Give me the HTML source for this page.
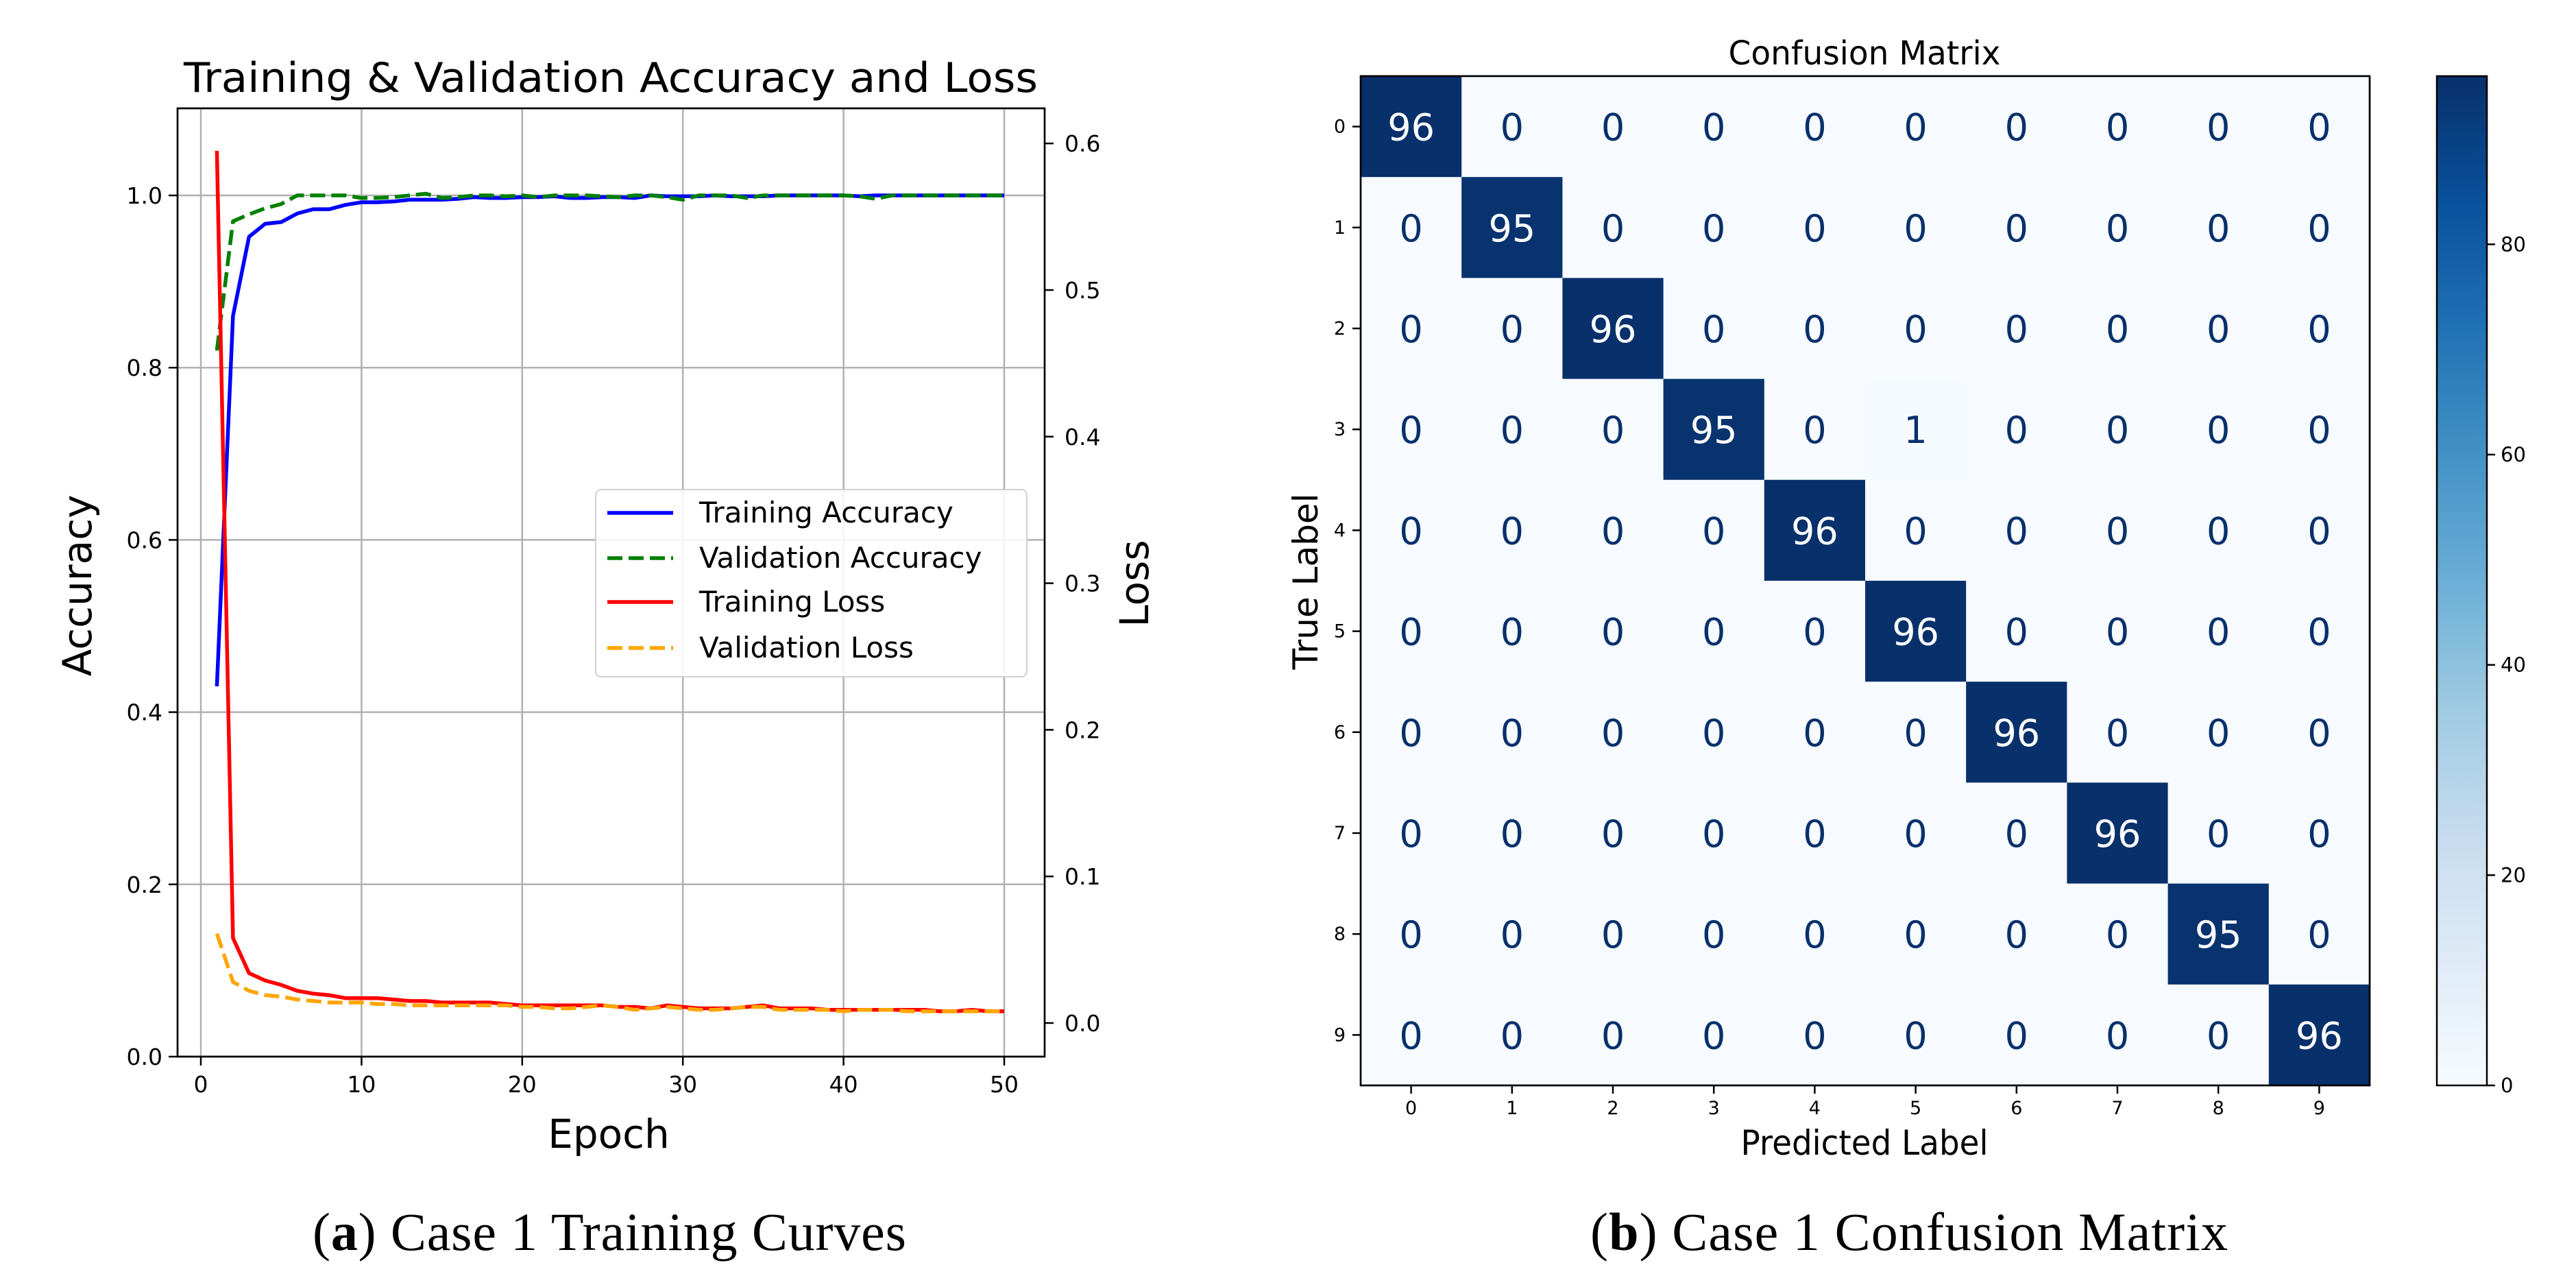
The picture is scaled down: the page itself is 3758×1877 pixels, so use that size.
<!DOCTYPE html>
<html><head><meta charset="utf-8"><style>
html,body{margin:0;padding:0;background:#fff}
svg{display:block}
text{font-family:"DejaVu Sans","Liberation Sans",sans-serif}
.cap{font-family:"Liberation Serif",serif}
</style></head><body>
<svg id="fig" width="3758" height="1877" viewBox="0 0 3758 1877" xmlns="http://www.w3.org/2000/svg">
<g id="left"></g>
<g id="right"></g>
<text class="cap" x="889" y="1823" font-size="78" text-anchor="middle" textLength="866">(<tspan font-weight="bold">a</tspan>) Case 1 Training Curves</text>
<text class="cap" x="2785" y="1823" font-size="78" text-anchor="middle" textLength="930">(<tspan font-weight="bold">b</tspan>) Case 1 Confusion Matrix</text>
</svg>
<script>
const epochs = Array.from({length:50},(_,i)=>i+1);
const trainAcc = [0.43,0.86,0.952,0.967,0.969,0.979,0.984,0.984,0.989,0.992,0.992,0.993,0.995,0.995,0.995,0.996,0.998,0.997,0.997,0.998,0.998,0.999,0.997,0.997,0.998,0.998,0.997,1.0,0.999,0.999,0.999,1.0,0.999,0.999,0.999,1.0,1.0,1.0,1.0,1.0,0.999,1.0,1.0,1.0,1.0,1.0,1.0,1.0,1.0,1.0];
const valAcc = [0.82,0.97,0.978,0.985,0.99,1.0,1.0,1.0,1.0,0.997,0.997,0.998,1.0,1.002,0.997,0.998,1.0,1.0,0.999,1.0,0.998,1.0,1.0,1.0,0.999,0.998,1.0,1.0,0.998,0.995,1.0,1.0,1.0,0.997,1.0,1.0,1.0,1.0,1.0,1.0,0.999,0.996,1.0,1.0,1.0,1.0,1.0,1.0,1.0,1.0];
const trainLoss = [0.595,0.058,0.034,0.029,0.026,0.022,0.020,0.019,0.017,0.017,0.017,0.016,0.015,0.015,0.014,0.014,0.014,0.014,0.013,0.012,0.012,0.012,0.012,0.012,0.012,0.011,0.011,0.010,0.012,0.011,0.010,0.010,0.010,0.011,0.012,0.010,0.010,0.010,0.009,0.009,0.009,0.009,0.009,0.009,0.009,0.008,0.008,0.009,0.008,0.008];
const valLoss = [0.061,0.028,0.022,0.019,0.018,0.016,0.015,0.014,0.014,0.014,0.013,0.013,0.012,0.012,0.012,0.012,0.012,0.012,0.012,0.011,0.011,0.010,0.010,0.011,0.012,0.011,0.009,0.010,0.011,0.010,0.009,0.009,0.010,0.011,0.011,0.009,0.009,0.009,0.009,0.008,0.009,0.009,0.009,0.008,0.008,0.008,0.008,0.008,0.008,0.008];
const xTicks = [0,10,20,30,40,50];
const accTicks = [0.0,0.2,0.4,0.6,0.8,1.0];
const lossTicks = [0.0,0.1,0.2,0.3,0.4,0.5,0.6];
const cmLabels = ['0','1','2','3','4','5','6','7','8','9'];
const cmValues = [
[96,0,0,0,0,0,0,0,0,0],
[0,95,0,0,0,0,0,0,0,0],
[0,0,96,0,0,0,0,0,0,0],
[0,0,0,95,0,1,0,0,0,0],
[0,0,0,0,96,0,0,0,0,0],
[0,0,0,0,0,96,0,0,0,0],
[0,0,0,0,0,0,96,0,0,0],
[0,0,0,0,0,0,0,96,0,0],
[0,0,0,0,0,0,0,0,95,0],
[0,0,0,0,0,0,0,0,0,96]];
const cbTicks = [0,20,40,60,80];

const NS='http://www.w3.org/2000/svg';
function mk(parent,tag,attrs,txt){const e=document.createElementNS(NS,tag);for(const k in attrs)e.setAttribute(k,attrs[k]);if(txt!==undefined)e.textContent=txt;parent.appendChild(e);return e;}

// ---- Left chart ----
const L=document.getElementById('left');
const ax={l:259,r:1524,t:158,b:1541};
const xS=v=>293+(v-0)*(1465-293)/50;
const yA=v=>1541-v*1256;
const yL=v=>1492-v*2138;
let e;
xTicks.forEach(t=>{e=mk(L,'line',{x1:xS(t),x2:xS(t),y1:ax.t,y2:ax.b,stroke:'#b0b0b0','stroke-width':2.5});

});
accTicks.forEach(t=>{e=mk(L,'line',{x1:ax.l,x2:ax.r,y1:yA(t),y2:yA(t),stroke:'#b0b0b0','stroke-width':2.5});

});
function series(vals,yf,color,dash,name){const d=vals.map((v,i)=>(i?'L':'M')+xS(epochs[i]).toFixed(1)+','+yf(v).toFixed(1)).join('');
const p=mk(L,'path',{d:d,fill:'none',stroke:color,'stroke-width':5.5,'stroke-dasharray':dash||'none','stroke-linejoin':'round'});

}
series(trainAcc,yA,'#0000ff',null,'training-accuracy-line');
series(valAcc,yA,'#008000','22 9','validation-accuracy-line');
series(trainLoss,yL,'#ff0000',null,'training-loss-line');
series(valLoss,yL,'#ffa500','22 9','validation-loss-line');
e=mk(L,'rect',{x:ax.l,y:ax.t,width:ax.r-ax.l,height:ax.b-ax.t,fill:'none',stroke:'#000','stroke-width':2.7});


xTicks.forEach(t=>{mk(L,'line',{x1:xS(t),x2:xS(t),y1:ax.b,y2:ax.b+13,stroke:'#000','stroke-width':2.5});
e=mk(L,'text',{x:xS(t),y:ax.b+52,'font-size':33,'text-anchor':'middle'},String(t));

});
accTicks.forEach(t=>{mk(L,'line',{x1:ax.l-13,x2:ax.l,y1:yA(t),y2:yA(t),stroke:'#000','stroke-width':2.5});
e=mk(L,'text',{x:ax.l-22,y:yA(t)+12,'font-size':33,'text-anchor':'end'},t.toFixed(1));

});
lossTicks.forEach(t=>{mk(L,'line',{x1:ax.r,x2:ax.r+13,y1:yL(t),y2:yL(t),stroke:'#000','stroke-width':2.5});
e=mk(L,'text',{x:ax.r+29,y:yL(t)+12,'font-size':33},t.toFixed(1));

});
e=mk(L,'text',{x:891,y:134,'font-size':60,'text-anchor':'middle',textLength:1246,lengthAdjust:'spacingAndGlyphs'},'Training & Validation Accuracy and Loss');


e=mk(L,'text',{x:888,y:1674,'font-size':58,'text-anchor':'middle'},'Epoch');


e=mk(L,'text',{x:0,y:0,'font-size':58,'text-anchor':'middle',transform:'translate(133,854) rotate(-90)'},'Accuracy');


e=mk(L,'text',{x:0,y:0,'font-size':58,'text-anchor':'middle',transform:'translate(1675,851) rotate(-90)'},'Loss');


// legend
const lg=mk(L,'g',{});


mk(lg,'rect',{x:869,y:714,width:629,height:273,rx:8,fill:'#fff','fill-opacity':0.85,stroke:'#d0d0d0','stroke-width':2});
const legItems=[['Training Accuracy','#0000ff',null],['Validation Accuracy','#008000','22 9'],['Training Loss','#ff0000',null],['Validation Loss','#ffa500','22 9']];
const legY=[748,814,878,945];
legItems.forEach((it,i)=>{mk(lg,'line',{x1:886,x2:982,y1:legY[i],y2:legY[i],stroke:it[1],'stroke-width':5.5,'stroke-dasharray':it[2]||'none'});
e=mk(lg,'text',{x:1020,y:legY[i]+14,'font-size':42},it[0]);

});

// ---- Right chart ----
const R=document.getElementById('right');
const cm={l:1985,r:3457,t:111,b:1583};
const cw=(cm.r-cm.l)/10,ch=(cm.b-cm.t)/10;
const stops=[[247,251,255],[222,235,247],[198,219,239],[158,202,225],[107,174,214],[66,146,198],[33,113,181],[8,81,156],[8,48,107]];
function blues(f){f=Math.max(0,Math.min(1,f))*8;const i=Math.min(7,Math.floor(f)),t=f-i;const a=stops[i],b=stops[i+1];return 'rgb('+a.map((c,k)=>Math.round(c+(b[k]-c)*t)).join(',')+')';}
const vmax=96;
cmValues.forEach((row,r)=>row.forEach((v,c)=>{
e=mk(R,'rect',{x:cm.l+c*cw,y:cm.t+r*ch,width:cw+0.5,height:ch+0.5,fill:blues(v/vmax)});


e=mk(R,'text',{x:cm.l+(c+0.5)*cw,y:cm.t+(r+0.5)*ch+20,'font-size':54,'text-anchor':'middle',fill:v/vmax>0.5?'#ffffff':'#08306b'},String(v));

}));
e=mk(R,'rect',{x:cm.l,y:cm.t,width:cm.r-cm.l,height:cm.b-cm.t,fill:'none',stroke:'#000','stroke-width':2.7});


cmLabels.forEach((lb,i)=>{
mk(R,'line',{x1:cm.l-12,x2:cm.l,y1:cm.t+(i+0.5)*ch,y2:cm.t+(i+0.5)*ch,stroke:'#000','stroke-width':2.5});
e=mk(R,'text',{x:cm.l-22,y:cm.t+(i+0.5)*ch+9,'font-size':27,'text-anchor':'end'},lb);


mk(R,'line',{x1:cm.l+(i+0.5)*cw,x2:cm.l+(i+0.5)*cw,y1:cm.b,y2:cm.b+12,stroke:'#000','stroke-width':2.5});
e=mk(R,'text',{x:cm.l+(i+0.5)*cw,y:cm.b+42,'font-size':27,'text-anchor':'middle'},lb);

});
e=mk(R,'text',{x:2720,y:94,'font-size':48,'text-anchor':'middle',textLength:397,lengthAdjust:'spacingAndGlyphs'},'Confusion Matrix');


e=mk(R,'text',{x:2720,y:1684,'font-size':50,'text-anchor':'middle',textLength:361,lengthAdjust:'spacingAndGlyphs'},'Predicted Label');


e=mk(R,'text',{x:0,y:0,'font-size':50,'text-anchor':'middle',transform:'translate(1922,848) rotate(-90)'},'True Label');


// colorbar
const cb={l:3555,r:3628,t:111,b:1583};
const defs=mk(R,'defs',{});
const gr=mk(defs,'linearGradient',{id:'cbg',x1:0,y1:1,x2:0,y2:0});
stops.forEach((s,i)=>mk(gr,'stop',{offset:(i/8),'stop-color':'rgb('+s.join(',')+')'}));
e=mk(R,'rect',{x:cb.l,y:cb.t,width:cb.r-cb.l,height:cb.b-cb.t,fill:'url(#cbg)',stroke:'#000','stroke-width':2.5});


const cbY=v=>cb.b-v/vmax*(cb.b-cb.t);
cbTicks.forEach(t=>{mk(R,'line',{x1:cb.r,x2:cb.r+12,y1:cbY(t),y2:cbY(t),stroke:'#000','stroke-width':2.5});
e=mk(R,'text',{x:cb.r+20,y:cbY(t)+10,'font-size':29},String(t));

});
</script>
</body></html>
